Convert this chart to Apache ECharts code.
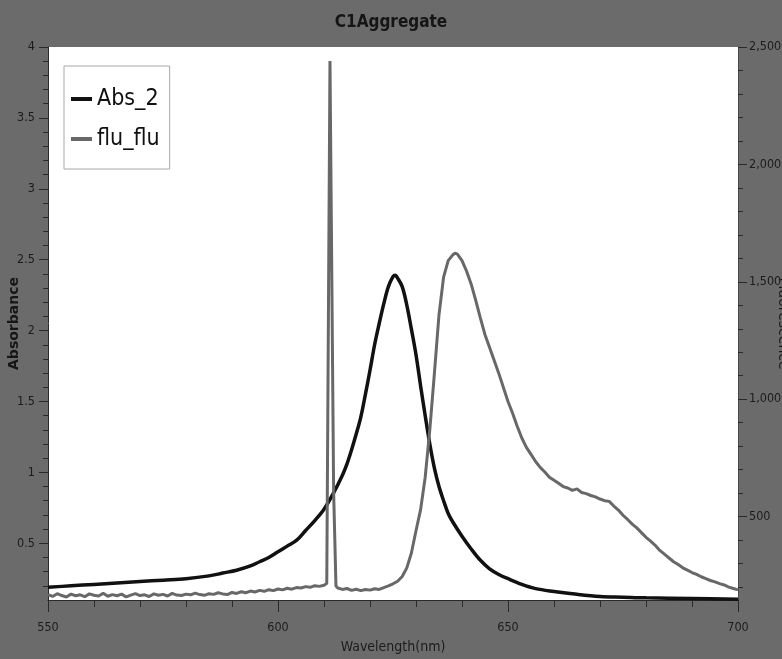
<!DOCTYPE html>
<html>
<head>
<meta charset="utf-8">
<script src="https://cdn.jsdelivr.net/npm/echarts@6/dist/echarts.min.js"></script>
<style>
  html, body { margin: 0; padding: 0; background: #6b6b6b; }
  #chart { width: 782px; height: 659px; }
</style>
</head>
<body>
<div id="chart"></div>
<script>
// Absorbance spectrum (left axis)
const absWavelength = [550, 555, 560, 565, 570, 575, 580, 585, 588, 591, 594, 596, 598, 600,
  602, 604, 606, 608, 610, 612, 614, 615, 616, 617, 618, 619, 620, 621, 622, 623, 624, 625,
  625.5, 626, 627, 628, 629, 630, 631, 632, 633, 634, 635, 636, 637, 638, 640, 642, 644, 646,
  648, 650, 653, 656, 660, 665, 670, 675, 680, 690, 700];
const absValues = [0.19, 0.20, 0.21, 0.22, 0.23, 0.24, 0.25, 0.27, 0.29, 0.31, 0.34, 0.37, 0.40, 0.44,
  0.48, 0.52, 0.59, 0.66, 0.74, 0.85, 0.98, 1.06, 1.16, 1.27, 1.39, 1.55, 1.72, 1.90, 2.05, 2.19, 2.31, 2.38,
  2.39, 2.37, 2.31, 2.18, 2.01, 1.83, 1.61, 1.40, 1.20, 1.03, 0.90, 0.80, 0.71, 0.65, 0.55, 0.46, 0.38, 0.32,
  0.28, 0.25, 0.21, 0.18, 0.16, 0.14, 0.125, 0.12, 0.115, 0.11, 0.105];

// Fluorescence spectrum (right axis)
const fluWavelength = [
  550, 551, 552, 553, 554, 555, 556, 557, 558, 559,
  560, 561, 562, 563, 564, 565, 566, 567, 568, 569,
  570, 571, 572, 573, 574, 575, 576, 577, 578, 579,
  580, 581, 582, 583, 584, 585, 586, 587, 588, 589,
  590, 591, 592, 593, 594, 595, 596, 597, 598, 599,
  600, 601, 602, 603, 604, 605, 606, 607, 608, 609,
  610, 610.6, 611.3, 611.5, 612.1, 612.6,
  613, 614, 615, 616, 617, 618, 619, 620, 621, 622,
  623, 624, 625, 626, 627, 628, 629, 630, 631, 632,
  633, 634, 635, 636, 637, 638, 638.5,
  639, 640, 641, 642, 643, 644, 645, 646, 647, 648,
  649, 650, 651, 652, 653, 654, 655, 656, 657, 658,
  659, 660, 661, 662, 663, 664, 665, 666, 667, 668,
  669, 670, 671, 672, 673, 674, 675, 676, 677, 678,
  679, 680, 681, 682, 683, 684, 685, 686, 687, 688,
  689, 690, 691, 692, 693, 694, 695, 696, 697, 698,
  699, 700];
const fluValues = [
  168, 160, 172, 164, 158, 170, 163, 167, 159, 171,
  165, 162, 174, 161, 168, 163, 170, 158, 166, 172,
  164, 167, 160, 171, 165, 169, 162, 173, 166, 164,
  170, 167, 174, 168, 165, 172, 169, 176, 171, 168,
  177, 173, 180, 176, 183, 179, 186, 182, 189, 185,
  192, 188, 195, 191, 198, 196, 202, 199, 206, 203,
  208, 215, 2440, 2440, 600, 205,
  196, 190, 194, 186, 191, 185, 190, 187, 193, 190,
  198, 205, 214, 225, 245, 282, 345, 440, 530, 668,
  870, 1110, 1360, 1520, 1590, 1615, 1622,
  1618, 1590, 1545, 1490, 1420, 1345, 1275, 1220, 1165, 1110,
  1050, 990, 940, 885, 835, 795, 765, 735, 710, 690,
  668, 655, 642, 628, 622, 612, 618, 603, 598, 590,
  584, 575, 568, 565, 545, 528, 506, 488, 468, 452,
  432, 412, 396, 378, 356, 340, 324, 308, 296, 282,
  272, 262, 254, 244, 236, 228, 222, 215, 209, 200,
  194, 188];

// Axis ticks
const wavelengthTicks = [550, 600, 650, 700];
const wavelengthMinorTicks = [560, 570, 580, 590, 610, 620, 630, 640, 660, 670, 680, 690];
const absTicks = [0.5, 1, 1.5, 2, 2.5, 3, 3.5, 4];
const absMinorTicks = [0.2, 0.3, 0.4, 0.6, 0.7, 0.8, 0.9, 1.1, 1.2, 1.3, 1.4, 1.6, 1.7, 1.8, 1.9,
  2.1, 2.2, 2.3, 2.4, 2.6, 2.7, 2.8, 2.9, 3.1, 3.2, 3.3, 3.4, 3.6, 3.7, 3.8, 3.9];
const fluTicks = [500, 1000, 1500, 2000, 2500];
const fluMinorTicks = [200, 300, 400, 600, 700, 800, 900, 1100, 1200, 1300, 1400,
  1600, 1700, 1800, 1900, 2100, 2200, 2300, 2400];

const absData = absWavelength.map((w, i) => [w, absValues[i]]);
const fluData = fluWavelength.map((w, i) => [w, fluValues[i]]);

const NARROW = "'Liberation Sans Narrow', 'Arial Narrow', 'DejaVu Sans Condensed', sans-serif";
const INK = '#1c1c1c';
const TICK = '#2a2a2a';
const WL_RANGE = { min: 550, max: 700 };
const ABS_RANGE = { min: 0.1, max: 4 };
const FLU_RANGE = { min: 145, max: 2500 };

const chart = echarts.init(document.getElementById('chart'), null, { renderer: 'canvas' });

chart.setOption({
  animation: false,
  backgroundColor: '#6b6b6b',
  title: {
    text: 'C1Aggregate',
    left: 'center',
    top: 9,
    textStyle: { fontFamily: NARROW, fontSize: 17, fontWeight: 'bold', color: '#151515' }
  },
  legend: {
    orient: 'vertical',
    left: 64,
    top: 66,
    padding: [18, 10, 15, 7],
    itemGap: 10,
    itemWidth: 21,
    itemHeight: 4,
    backgroundColor: '#ffffff',
    borderColor: '#a8a8a8',
    borderWidth: 1,
    textStyle: { fontFamily: NARROW, fontSize: 23, color: '#111', lineHeight: 30 },
    data: [
      { name: 'Abs_2', icon: 'rect', itemStyle: { color: '#111' } },
      { name: 'flu_flu', icon: 'rect', itemStyle: { color: '#686868' } }
    ]
  },
  grid: {
    left: 48, right: 44, top: 47, bottom: 59,
    show: true, backgroundColor: '#ffffff', borderWidth: 0,
    containLabel: false,
    outerBoundsMode: 'none'
  },
  xAxis: [
    {
      type: 'value',
      min: WL_RANGE.min, max: WL_RANGE.max, interval: 50,
      name: 'Wavelength(nm)',
      nameLocation: 'middle',
      nameGap: 40,
      nameMoveOverlap: false,
      nameTextStyle: { fontFamily: NARROW, fontSize: 14, color: INK },
      axisLine: { show: true, onZero: false, lineStyle: { color: TICK, width: 1 } },
      axisTick: { show: true, inside: false, length: 12, customValues: wavelengthTicks, lineStyle: { color: TICK } },
      axisLabel: { fontFamily: NARROW, fontSize: 12.5, color: INK, margin: 21, customValues: wavelengthTicks },
      splitLine: { show: false }
    },
    {
      // minor ticks for the wavelength scale
      type: 'value',
      position: 'bottom',
      min: WL_RANGE.min, max: WL_RANGE.max,
      axisLine: { show: false, onZero: false },
      axisTick: { show: true, inside: false, length: 7, customValues: wavelengthMinorTicks, lineStyle: { color: TICK } },
      axisLabel: { show: false },
      splitLine: { show: false }
    }
  ],
  yAxis: [
    {
      type: 'value',
      position: 'left',
      min: ABS_RANGE.min, max: ABS_RANGE.max,
      name: 'Absorbance',
      nameLocation: 'middle',
      nameGap: 27,
      nameMoveOverlap: false,
      nameTextStyle: { fontFamily: "'DejaVu Sans', sans-serif", fontSize: 14, fontWeight: 'bold', color: '#161616' },
      axisLine: { show: true, onZero: false, lineStyle: { color: TICK } },
      axisTick: { show: true, inside: false, length: 9, customValues: absTicks, lineStyle: { color: TICK } },
      axisLabel: { show: true, customValues: absTicks, fontFamily: NARROW, fontSize: 12.5, color: INK, margin: 13 },
      splitLine: { show: false }
    },
    {
      type: 'value',
      position: 'right',
      min: FLU_RANGE.min, max: FLU_RANGE.max,
      name: 'Fluorescence',
      nameLocation: 'middle',
      nameRotate: -90,
      nameGap: 38,
      nameMoveOverlap: false,
      nameTextStyle: { fontFamily: "'DejaVu Sans', sans-serif", fontSize: 14, color: '#1a1a1a' },
      axisLine: { show: true, onZero: false, lineStyle: { color: '#4a4a4a' } },
      axisTick: { show: true, inside: false, length: 9, customValues: fluTicks, lineStyle: { color: TICK } },
      axisLabel: {
        show: true, customValues: fluTicks, fontFamily: NARROW, fontSize: 12.5, color: INK, margin: 11,
        formatter: v => v.toLocaleString('en-US')
      },
      splitLine: { show: false }
    },
    {
      // minor ticks for the absorbance scale
      type: 'value',
      position: 'left',
      min: ABS_RANGE.min, max: ABS_RANGE.max,
      axisLine: { show: false, onZero: false },
      axisTick: { show: true, inside: false, length: 5, customValues: absMinorTicks, lineStyle: { color: TICK } },
      axisLabel: { show: false },
      splitLine: { show: false }
    },
    {
      // minor ticks for the fluorescence scale
      type: 'value',
      position: 'right',
      min: FLU_RANGE.min, max: FLU_RANGE.max,
      axisLine: { show: false, onZero: false },
      axisTick: { show: true, inside: false, length: 5, customValues: fluMinorTicks, lineStyle: { color: TICK } },
      axisLabel: { show: false },
      splitLine: { show: false }
    }
  ],
  series: [
    {
      name: 'Abs_2',
      type: 'line',
      xAxisIndex: 0,
      yAxisIndex: 0,
      data: absData,
      showSymbol: false,
      symbol: 'none',
      smooth: 0.35,
      lineStyle: { color: '#111', width: 3.5 },
      itemStyle: { color: '#111' },
      z: 2
    },
    {
      name: 'flu_flu',
      type: 'line',
      xAxisIndex: 0,
      yAxisIndex: 1,
      data: fluData,
      showSymbol: false,
      symbol: 'none',
      lineStyle: { color: '#686868', width: 3 },
      itemStyle: { color: '#686868' },
      z: 3
    }
  ]
});
</script>
</body>
</html>
